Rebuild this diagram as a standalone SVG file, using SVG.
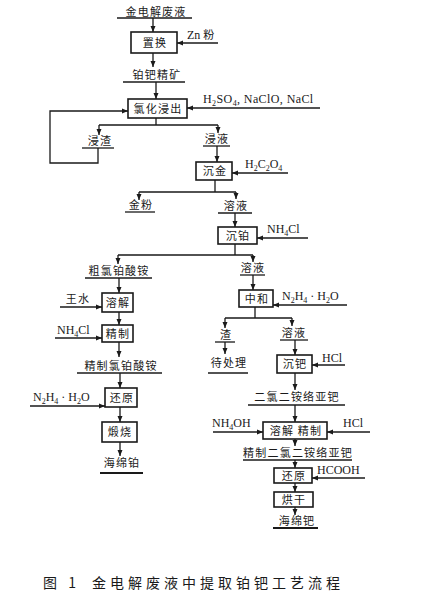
<svg xmlns="http://www.w3.org/2000/svg" width="430" height="591" viewBox="0 0 430 591">
<defs>
<marker id="a" markerWidth="6" markerHeight="6" refX="6" refY="3" orient="auto" markerUnits="userSpaceOnUse"><path d="M0,0.5 L6,3 L0,5.5 z" fill="#1a1a1a"/></marker>
<style>
.ln{stroke:#1a1a1a;stroke-width:1.3;fill:none}
.ar{stroke:#1a1a1a;stroke-width:1.3;fill:none;marker-end:url(#a)}
.ul{stroke:#1a1a1a;stroke-width:1.3}
.bx{fill:#fff;stroke:#1a1a1a;stroke-width:1.6}
.t{font-family:"Noto Sans CJK SC",sans-serif;font-size:11px;letter-spacing:1.2px;text-anchor:middle;fill:#1a1a1a}
.c{font-family:"Liberation Serif",serif;font-size:12px;fill:#1a1a1a}
.s{font-size:8px}
.cap{font-family:"Noto Sans CJK SC",sans-serif;font-size:14px;letter-spacing:4px;fill:#1a1a1a}
</style>
</defs>
<rect width="430" height="591" fill="#fff"/>

<g id="connectors">
<path class="ar" d="M153,18 V32"/>
<path class="ar" d="M218,43 H177"/>
<path class="ar" d="M153,53 V67"/>
<path class="ar" d="M156,82 V99"/>
<path class="ar" d="M320,108 H187"/>
<path class="ar" d="M98,148 V163 H50 V111 H128"/>
<path class="ln" d="M156,118 V125 M99,125 H218"/>
<path class="ar" d="M99,125 V135"/>
<path class="ar" d="M218,125 V133"/>
<path class="ar" d="M217,146 V162"/>
<path class="ar" d="M288,173 H232"/>
<path class="ln" d="M215,180 V192 M139,192 H236"/>
<path class="ar" d="M139,192 V200"/>
<path class="ar" d="M236,192 V199"/>
<path class="ar" d="M235,213 V227"/>
<path class="ar" d="M308,238 H257"/>
<path class="ln" d="M235,244 V255 M118,255 H253"/>
<path class="ar" d="M118,255 V264"/>
<path class="ar" d="M253,255 V262"/>
<path class="ar" d="M119,278 V293"/>
<path class="ar" d="M60,307 H102"/>
<path class="ar" d="M119,312 V325"/>
<path class="ar" d="M55,338 H102"/>
<path class="ar" d="M119,342 V357"/>
<path class="ar" d="M120,373 V388"/>
<path class="ar" d="M30,406 H105"/>
<path class="ar" d="M120,407 V422"/>
<path class="ar" d="M120,442 V456"/>
<path class="ar" d="M253,275 V290"/>
<path class="ar" d="M347,305 H273"/>
<path class="ln" d="M255,307 V318 M225,318 H292"/>
<path class="ar" d="M225,318 V328"/>
<path class="ar" d="M292,318 V326"/>
<path class="ar" d="M225,342 V354"/>
<path class="ar" d="M295,340 V355"/>
<path class="ar" d="M345,365 H312"/>
<path class="ar" d="M295,373 V390"/>
<path class="ar" d="M295,405 V422"/>
<path class="ar" d="M213,432 H263"/>
<path class="ar" d="M370,432 H327"/>
<path class="ar" d="M295,439 V446"/>
<path class="ar" d="M295,460 V468"/>
<path class="ar" d="M365,478 H312"/>
<path class="ar" d="M295,483 V492"/>
<path class="ar" d="M295,507 V515"/>
</g>

<g id="n_feed"><text class="t" x="156" y="16">金电解废液</text><line class="ul" x1="117" y1="18" x2="192" y2="18"/></g>
<g id="n_zhihuan"><rect class="bx" x="131" y="32" width="46" height="21"/><text class="t" x="155" y="47">置换</text></g>
<g id="r_zn"><text class="c" x="187" y="39">Zn <tspan font-family="Noto Sans CJK SC,sans-serif" font-size="11">粉</tspan></text></g>
<g id="n_jingkuang"><text class="t" x="157" y="79">铂钯精矿</text><line class="ul" x1="123" y1="82" x2="185" y2="82"/></g>
<g id="n_lvhua"><rect class="bx" x="128" y="99" width="59" height="19"/><text class="t" x="158" y="113">氯化浸出</text></g>
<g id="r_lvhua"><text class="c" x="203" y="103" letter-spacing="0.4">H<tspan class="s" dy="2.5">2</tspan><tspan dy="-2.5">SO</tspan><tspan class="s" dy="2.5">4</tspan><tspan dy="-2.5">, NaClO, NaCl</tspan></text></g>
<g id="n_jinzha"><text class="t" x="100" y="145">浸渣</text><line class="ul" x1="82" y1="148" x2="114" y2="148"/></g>
<g id="n_jinye"><text class="t" x="217" y="143">浸液</text><line class="ul" x1="203" y1="146" x2="230" y2="146"/></g>
<g id="n_chenjin"><rect class="bx" x="196" y="162" width="36" height="18"/><text class="t" x="215" y="175">沉金</text></g>
<g id="r_chenjin"><text class="c" x="245" y="168">H<tspan class="s" dy="2.5">2</tspan><tspan dy="-2.5">C</tspan><tspan class="s" dy="2.5">2</tspan><tspan dy="-2.5">O</tspan><tspan class="s" dy="2.5">4</tspan></text></g>
<g id="n_jinfen"><text class="t" x="141" y="209">金粉</text><line class="ul" x1="125" y1="212" x2="155" y2="212"/></g>
<g id="n_rongye1"><text class="t" x="236" y="210">溶液</text><line class="ul" x1="218" y1="213" x2="252" y2="213"/></g>
<g id="n_chenbo"><rect class="bx" x="218" y="227" width="39" height="17"/><text class="t" x="238" y="240">沉铂</text></g>
<g id="r_chenbo"><text class="c" x="267" y="233">NH<tspan class="s" dy="2.5">4</tspan><tspan dy="-2.5">Cl</tspan></text></g>
<g id="n_culv"><text class="t" x="119" y="275">粗氯铂酸铵</text><line class="ul" x1="85" y1="278" x2="152" y2="278"/></g>
<g id="n_rongye2"><text class="t" x="253" y="272">溶液</text><line class="ul" x1="240" y1="275" x2="265" y2="275"/></g>
<g id="n_rongjie"><rect class="bx" x="102" y="293" width="31" height="19"/><text class="t" x="118" y="307">溶解</text></g>
<g id="r_wangshui"><text class="t" x="78" y="303">王水</text></g>
<g id="n_jingzhi"><rect class="bx" x="102" y="325" width="31" height="17"/><text class="t" x="118" y="338">精制</text></g>
<g id="r_jingzhi"><text class="c" x="57" y="334">NH<tspan class="s" dy="2.5">4</tspan><tspan dy="-2.5">Cl</tspan></text></g>
<g id="n_jingzhilv"><text class="t" x="121" y="370">精制氯铂酸铵</text><line class="ul" x1="77" y1="373" x2="162" y2="373"/></g>
<g id="n_huanyuan1"><rect class="bx" x="105" y="388" width="32" height="19"/><text class="t" x="122" y="402">还原</text></g>
<g id="r_huanyuan1"><text class="c" x="33" y="401">N<tspan class="s" dy="2.5">2</tspan><tspan dy="-2.5">H</tspan><tspan class="s" dy="2.5">4</tspan><tspan dy="-2.5"> · H</tspan><tspan class="s" dy="2.5">2</tspan><tspan dy="-2.5">O</tspan></text></g>
<g id="n_duanshao"><rect class="bx" x="102" y="422" width="35" height="20"/><text class="t" x="120" y="436">煅烧</text></g>
<g id="n_haimianbo"><text class="t" x="122" y="467">海绵铂</text><line x1="100" y1="473" x2="143" y2="473" stroke="#1a1a1a" stroke-width="2"/></g>
<g id="n_zhonghe"><rect class="bx" x="239" y="290" width="34" height="17"/><text class="t" x="257" y="303">中和</text></g>
<g id="r_zhonghe"><text class="c" x="282" y="300">N<tspan class="s" dy="2.5">2</tspan><tspan dy="-2.5">H</tspan><tspan class="s" dy="2.5">4</tspan><tspan dy="-2.5"> · H</tspan><tspan class="s" dy="2.5">2</tspan><tspan dy="-2.5">O</tspan></text></g>
<g id="n_zha"><text class="t" x="226" y="339">渣</text><line class="ul" x1="215" y1="342" x2="235" y2="342"/></g>
<g id="n_daichuli"><text class="t" x="229" y="367">待处理</text><line class="ul" x1="208" y1="373" x2="248" y2="373"/></g>
<g id="n_rongye3"><text class="t" x="294" y="337">溶液</text><line class="ul" x1="280" y1="340" x2="308" y2="340"/></g>
<g id="n_chenba"><rect class="bx" x="277" y="355" width="35" height="18"/><text class="t" x="295" y="368">沉钯</text></g>
<g id="r_chenba"><text class="c" x="322" y="362">HCl</text></g>
<g id="n_erlv"><text class="t" x="297" y="401">二氯二铵络亚钯</text><line class="ul" x1="248" y1="405" x2="345" y2="405"/></g>
<g id="n_rongjiejingzhi"><rect class="bx" x="263" y="422" width="64" height="17"/><text class="t" x="296" y="435">溶解 精制</text></g>
<g id="r_nh4oh"><text class="c" x="212" y="427">NH<tspan class="s" dy="2.5">4</tspan><tspan dy="-2.5">OH</tspan></text></g>
<g id="r_hcl2"><text class="c" x="343" y="427">HCl</text></g>
<g id="n_jingzhierlv"><text class="t" x="298" y="457">精制二氯二铵络亚钯</text><line class="ul" x1="243" y1="460" x2="352" y2="460"/></g>
<g id="n_huanyuan2"><rect class="bx" x="274" y="468" width="38" height="15"/><text class="t" x="294" y="480">还原</text></g>
<g id="r_hcooh"><text class="c" x="317" y="474">HCOOH</text></g>
<g id="n_honggan"><rect class="bx" x="274" y="492" width="39" height="15"/><text class="t" x="294" y="504">烘干</text></g>
<g id="n_haimianba"><text class="t" x="297" y="525">海绵钯</text><line x1="273" y1="528" x2="318" y2="528" stroke="#1a1a1a" stroke-width="2"/></g>

<g id="caption"><text class="cap" x="43" y="588">图 1</text><text class="cap" x="92" y="588">金电解废液中提取铂钯工艺流程</text></g>
</svg>
